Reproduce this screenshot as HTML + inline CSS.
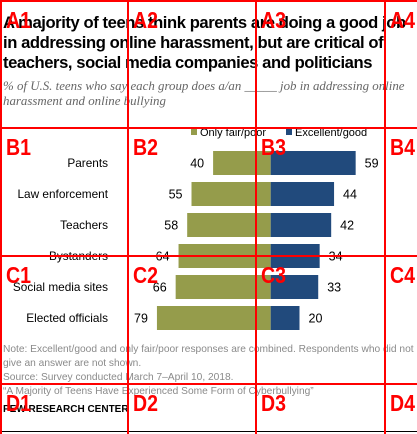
<!DOCTYPE html>
<html><head><meta charset="utf-8"><style>
body{margin:0;width:417px;height:434px;background:#fff;position:relative;overflow:hidden;font-family:"Liberation Sans",sans-serif}
.t{position:absolute;left:3px;top:13px;width:414px;overflow:hidden;font-weight:bold;font-size:16.6px;line-height:20px;color:#000;letter-spacing:-0.42px;white-space:nowrap}
.s{position:absolute;left:3px;top:79px;font-family:"Liberation Serif",serif;font-style:italic;font-size:12.9px;line-height:15px;color:#666;width:414px;overflow:hidden;white-space:nowrap}
.n{position:absolute;left:3px;top:343px;font-size:10.2px;line-height:14px;color:#8a8a8a;width:414px;overflow:hidden;white-space:nowrap}
.p{position:absolute;left:3px;top:404px;font-size:10px;font-weight:bold;color:#000}
.g{position:absolute;background:red}
.l{position:absolute;color:red;font-weight:bold;font-size:23px;line-height:26px;font-family:"Liberation Sans",sans-serif;transform:scaleX(0.85);transform-origin:left top}
</style></head><body>
<div class="t">A majority of teens think parents are doing a good job<br>in addressing online harassment, but are critical of<br>teachers, social media companies and politicians</div>
<div class="s">% of U.S. teens who say each group does a/an _____ job in addressing online<br>harassment and online bullying</div>
<svg id="chart" width="417" height="434" style="position:absolute;left:0;top:0"></svg>
<div class="n">Note: Excellent/good and only fair/poor responses are combined. Respondents who did not<br>give an answer are not shown.<br>Source: Survey conducted March 7–April 10, 2018.<br>“A Majority of Teens Have Experienced Some Form of Cyberbullying”</div>
<div class="p">PEW RESEARCH CENTER</div>
<div style="position:absolute;left:0;top:431px;width:417px;height:1px;background:#000"></div>
<div id="grid"></div>
<script>
const categories=["Parents","Law enforcement","Teachers","Bystanders","Social media sites","Elected officials"];
const fairPoor=[40,55,58,64,66,79];
const excellentGood=[59,44,42,34,33,20];
const seriesNames=["Only fair/poor","Excellent/good"];
const NS="http://www.w3.org/2000/svg",svg=document.getElementById('chart');
const cx=270.7,k=1.44,top0=151,pitch=31,bh=24;
const xs=v=>v*k, ys=i=>top0+i*pitch;
function mk(t,a,txt){const e=document.createElementNS(NS,t);for(const q in a)e.setAttribute(q,a[q]);if(txt!==undefined)e.textContent=txt;svg.appendChild(e);return e;}
categories.forEach((c,i)=>{
 const y=ys(i);
 let e=mk('text',{x:108,y:y+bh/2+4,'text-anchor':'end','font-size':11.8,fill:'#000','font-family':'Liberation Sans'},c);
 
 e=mk('rect',{x:cx-xs(fairPoor[i]),y:y,width:xs(fairPoor[i]),height:bh,fill:'#959c4b'});
 
 e=mk('rect',{x:cx,y:y,width:xs(excellentGood[i]),height:bh,fill:'#214a7c'});
 
 e=mk('text',{x:cx-xs(fairPoor[i])-9,y:y+bh/2+4.5,'text-anchor':'end','font-size':12.5,fill:'#000','font-family':'Liberation Sans'},fairPoor[i]);
 
 e=mk('text',{x:cx+xs(excellentGood[i])+9,y:y+bh/2+4.5,'font-size':12.5,fill:'#000','font-family':'Liberation Sans'},excellentGood[i]);
 
});
let e=mk('rect',{x:191,y:129,width:6,height:6,fill:'#959c4b'});

e=mk('text',{x:200,y:136,'font-size':11,fill:'#000','font-family':'Liberation Sans'},seriesNames[0]);

e=mk('rect',{x:286,y:129,width:6,height:6,fill:'#214a7c'});

e=mk('text',{x:295,y:136,'font-size':11,fill:'#000','font-family':'Liberation Sans'},seriesNames[1]);

const g=document.getElementById('grid');
[1,128,256,385].forEach(x=>{const d=document.createElement('div');d.className='g';d.style.cssText=`left:${x-1}px;top:0;width:2px;height:434px`;g.appendChild(d);});
[1,128,256,384].forEach(y=>{const d=document.createElement('div');d.className='g';d.style.cssText=`left:0;top:${y-1}px;width:417px;height:2px`;g.appendChild(d);});
"ABCD".split('').forEach((r,ri)=>[1,2,3,4].forEach((c,ci)=>{const d=document.createElement('div');d.className='l';d.textContent=r+c;d.style.left=([1,128,256,385][ci]+5)+'px';d.style.top=([1,128,256,384][ri]+6)+'px';g.appendChild(d);}));
</script>
</body></html>
